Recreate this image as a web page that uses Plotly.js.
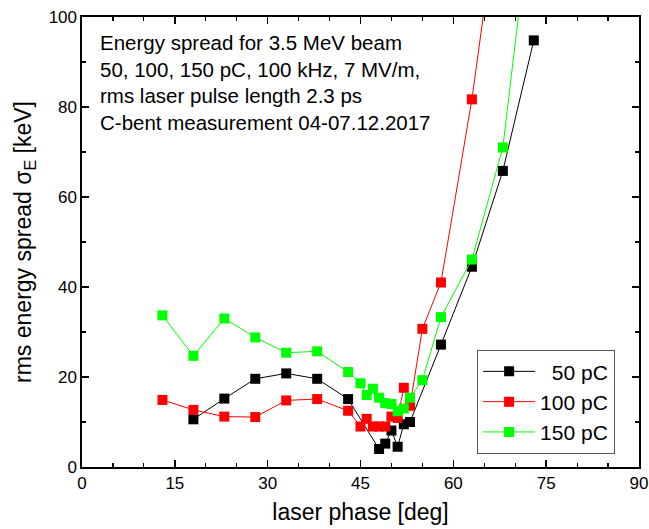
<!DOCTYPE html>
<html>
<head>
<meta charset="utf-8">
<script src="https://cdn.plot.ly/plotly-3.0.1.min.js"></script>
<style>
  html, body { margin: 0; padding: 0; background: #fff; }
  #chart { width: 649px; height: 529px; }
</style>
</head>
<body>
<div id="chart"></div>
<script>
// Laser phase scan: rms energy spread for three bunch charges
const phase50  = [18, 23, 28, 33, 38, 43, 48, 49, 50, 51, 52, 53, 58, 63, 68, 73];
const sigma50  = [10.6, 15.2, 19.6, 20.8, 19.6, 15.1, 4.0, 5.2, 8.1, 4.5, 9.5, 10.0, 27.2, 44.5, 65.8, 94.8];

const phase100 = [13, 18, 23, 28, 33, 38, 43, 45, 46, 47, 48, 49, 50, 51, 52, 53, 55, 58, 63, 68];
const sigma100 = [14.9, 12.7, 11.2, 11.1, 14.8, 15.1, 12.5, 9.0, 10.7, 9.0, 9.0, 9.0, 11.2, 10.9, 17.6, 13.6, 30.7, 41.0, 81.7, 132];

const phase150 = [13, 18, 23, 28, 33, 38, 43, 45, 46, 47, 48, 49, 50, 51, 52, 53, 55, 58, 63, 68, 73];
const sigma150 = [33.7, 24.7, 33.0, 28.8, 25.4, 25.7, 21.1, 18.6, 16.0, 17.4, 15.4, 14.2, 14.0, 12.4, 13.0, 15.4, 19.3, 33.3, 46.1, 71.0, 129];

const seriesNames = ['\u00a0\u00a050 pC', '100 pC', '150 pC'];
const seriesColors = ['#000000', '#ff0000', '#00ff00'];

const infoLines = [
  'Energy spread for 3.5 MeV beam',
  '50, 100, 150 pC, 100 kHz, 7 MV/m,',
  'rms laser pulse length 2.3 ps',
  'C-bent measurement 04-07.12.2017'
];

const FONT = 'Liberation Sans, Arial, sans-serif';

const xs = [phase50, phase100, phase150];
const ys = [sigma50, sigma100, sigma150];

const traces = xs.map((x, i) => ({
  type: 'scatter',
  mode: 'lines+markers',
  x: x,
  y: ys[i],
  name: seriesNames[i],
  line: { color: seriesColors[i], width: 1 },
  marker: { symbol: 'square', size: 10, color: seriesColors[i], line: { width: 0 } }
}));

const axisCommon = {
  showgrid: false,
  zeroline: false,
  showline: true,
  linecolor: '#000',
  linewidth: 1.6,
  mirror: 'allticks',
  ticks: 'inside',
  ticklen: 7,
  tickwidth: 1.4,
  tickcolor: '#000',
  tickfont: { family: FONT, size: 17, color: '#000' }
};

const layout = {
  width: 649,
  height: 529,
  margin: { l: 82, r: 10, t: 17, b: 62 },
  paper_bgcolor: '#fff',
  plot_bgcolor: '#fff',
  font: { family: FONT, color: '#000' },
  showlegend: true,
  xaxis: Object.assign({}, axisCommon, {
    range: [0, 90],
    tick0: 0,
    dtick: 15,
    minor: { dtick: 5, ticks: 'inside', ticklen: 4, tickwidth: 1.2, tickcolor: '#000' },
    title: { text: 'laser phase [deg]', font: { family: FONT, size: 23, color: '#000' }, standoff: 12 }
  }),
  yaxis: Object.assign({}, axisCommon, {
    range: [0, 100],
    tick0: 0,
    dtick: 20,
    minor: { dtick: 10, ticks: 'inside', ticklen: 4, tickwidth: 1.2, tickcolor: '#000' },
    title: { text: 'rms energy spread σ<sub>E</sub> [keV]', font: { family: FONT, size: 23, color: '#000' }, standoff: 10 }
  }),
  legend: {
    x: 0.709,
    y: 0.26,
    xanchor: 'left',
    yanchor: 'top',
    bgcolor: '#fff',
    bordercolor: '#555',
    borderwidth: 1.2,
    itemwidth: 52,
    tracegroupgap: 0,
    font: { family: FONT, size: 21, color: '#000' }
  },
  annotations: [{
    xref: 'paper',
    yref: 'paper',
    x: 0.029,
    y: 0.974,
    xanchor: 'left',
    yanchor: 'top',
    align: 'left',
    showarrow: false,
    text: infoLines.join('<br>'),
    font: { family: FONT, size: 20.5, color: '#000' }
  }]
};

Plotly.newPlot('chart', traces, layout, { displayModeBar: false, staticPlot: true });
</script>
</body>
</html>
